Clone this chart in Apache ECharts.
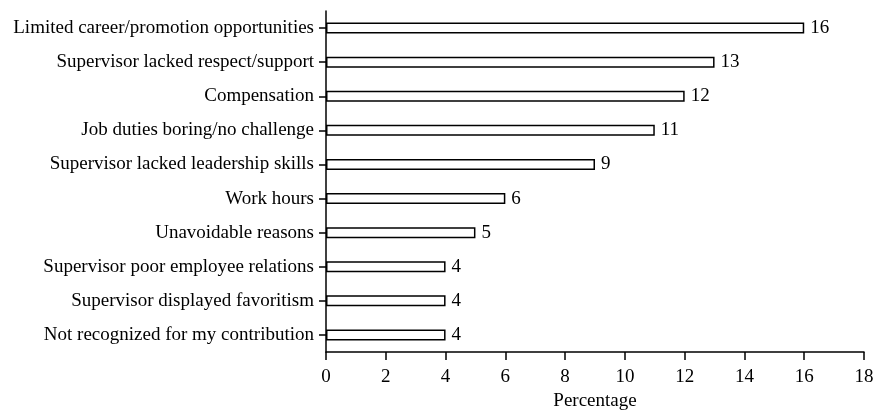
<!DOCTYPE html>
<html><head><meta charset="utf-8">
<script src="https://cdn.jsdelivr.net/npm/echarts@6/dist/echarts.min.js"></script>
<style>html,body{margin:0;padding:0;background:#fff}#c{width:875px;height:410px}</style>
</head><body><div id="c"></div>
<script>
const categories = [
  "Limited career/promotion opportunities",
  "Supervisor lacked respect/support",
  "Compensation",
  "Job duties boring/no challenge",
  "Supervisor lacked leadership skills",
  "Work hours",
  "Unavoidable reasons",
  "Supervisor poor employee relations",
  "Supervisor displayed favoritism",
  "Not recognized for my contribution"
];
const values = [16, 13, 12, 11, 9, 6, 5, 4, 4, 4];
const xTicks = [0, 2, 4, 6, 8, 10, 12, 14, 16, 18];
const xTitle = "Percentage";

const font = "'Liberation Serif', 'Times New Roman', serif";
const chart = echarts.init(document.getElementById('c'));
chart.setOption({
  animation: false,
  grid: {left: 326, right: 11, top: 11, bottom: 58, containLabel: false, outerBoundsMode: 'none'},
  xAxis: {
    type: 'value', min: xTicks[0], max: xTicks[xTicks.length-1], interval: 2,
    name: xTitle, nameLocation: 'middle', nameGap: 38,
    nameTextStyle: {fontFamily: font, fontSize: 19, color: '#000'},
    axisLine: {show: true, lineStyle: {color: '#000', width: 1.5}},
    axisTick: {show: true, length: 8, lineStyle: {color: '#000', width: 1.5}},
    axisLabel: {fontFamily: font, fontSize: 19, color: '#000', margin: 16},
    splitLine: {show: false}
  },
  yAxis: {
    type: 'category', data: categories, inverse: true,
    axisLine: {show: true, lineStyle: {color: '#000', width: 1.5}},
    axisTick: {show: true, alignWithLabel: true, length: 7, lineStyle: {color: '#000', width: 1.5}},
    axisLabel: {fontFamily: font, fontSize: 19, color: '#000', margin: 12}
  },
  series: [{
    type: 'bar', data: values, barWidth: 11,
    itemStyle: {color: '#fff', borderColor: '#000', borderWidth: 1.5},
    label: {show: true, position: 'right', distance: 6, fontFamily: font, fontSize: 19, color: '#000'}
  }]
});
</script></body></html>
